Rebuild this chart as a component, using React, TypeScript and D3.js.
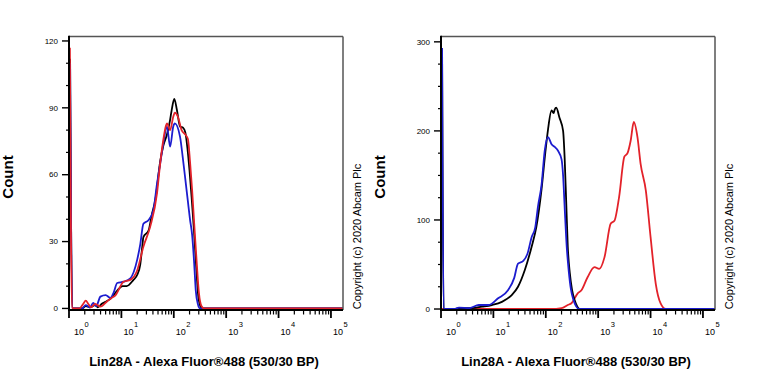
import React from 'react';
import * as d3 from 'd3';

// intensity / count pairs
const leftBlack: [number, number][] = [
  [1.05, 112], [1.15, 0], [1.78, 0], [2.09, 1], [2.51, 0.5], [3.16, 1.5], [3.55, 0.5], [4.17, 2],
  [5.01, 3], [6.31, 4.5], [8.32, 8], [10.5, 10], [12.6, 10], [17, 12.8], [20, 15], [22.9, 19.7],
  [25.1, 28], [26.3, 32], [33.1, 35], [38, 42], [44.7, 49], [55, 66], [63.1, 73], [74.1, 78],
  [85.1, 84.6], [91.2, 89], [102.3, 94], [114.8, 89], [131.8, 81.6], [151.4, 81], [166, 79],
  [182, 72], [199.5, 62], [218.8, 50], [242.7, 35], [269, 18], [295, 5], [331, 0.5], [363, 0], [169000, 0],
];
const leftBlue: [number, number][] = [
  [1.05, 110], [1.15, 0], [1.78, 0], [2.09, 1.5], [2.51, 0.5], [2.9, 2.5], [3.3, 1], [3.98, 5.3],
  [5.01, 6], [6.17, 4.7], [7.08, 7], [8.32, 11.4], [11, 12], [14.8, 13.5], [20, 21.8], [23, 29],
  [26.3, 38], [33.1, 39.7], [40.7, 44], [47.9, 56], [55, 65], [63.1, 74], [74.1, 81.6], [85.1, 72.6],
  [97.7, 81.6], [104.7, 83], [131.8, 77], [147.9, 68], [166, 58], [186, 48], [204, 40], [224, 33],
  [245.5, 20], [263, 8], [288, 2], [316, 0], [169000, 0],
];
const leftRed: [number, number][] = [
  [1.04, 117], [1.14, 0], [1.58, 0], [1.86, 2], [2.09, 3.5], [2.34, 2], [2.63, 0.5], [3.16, 2],
  [3.98, 0.8], [5.25, 3], [6.3, 4.5], [7.76, 6], [11, 12], [14.8, 12.8], [20, 17], [26.3, 27.7],
  [35.5, 36.7], [47.9, 51.7], [55, 65], [63.1, 75.6], [70.8, 82], [74.1, 83], [85.1, 80], [97.7, 86],
  [104.7, 87.8], [120, 86], [141, 80], [166, 78], [186, 76], [204, 66], [224, 53], [245.5, 38],
  [275, 20], [302, 7], [339, 1], [380, 0], [169000, 0],
];

const rightBlack: [number, number][] = [
  [1.05, 285], [1.12, 0], [1.8, 0], [2.19, 1], [3.89, 1], [6.03, 2.6], [9.33, 4.5], [14.5, 8],
  [22.4, 15.7], [29.5, 25], [39.8, 43.8], [53.7, 70], [66, 92], [83.2, 135], [97.7, 175], [110, 201],
  [129, 223], [141, 220], [148, 224], [158.5, 226], [182, 215], [214, 200], [229, 170], [245.5, 120],
  [263, 70], [288, 40], [316, 22], [355, 10], [398, 3], [447, 0], [169000, 0],
];
const rightBlue: [number, number][] = [
  [1.05, 293], [1.12, 0], [1.8, 0], [2.2, 1.5], [3.5, 1], [5.25, 4.5], [8.1, 4.5], [12.3, 12],
  [19, 21], [25, 35], [29.5, 51], [37.2, 54], [44.7, 62], [53.7, 80.6], [63.1, 92], [70.8, 114.8],
  [83.2, 140], [95.5, 178], [110, 193], [129, 185], [148, 182], [170, 178], [200, 168], [214, 150],
  [229, 115], [251, 70], [275, 42], [302, 22], [339, 10], [380, 3], [427, 0], [169000, 0],
];
const rightRed: [number, number][] = [
  [1, 0], [126, 0], [200, 1], [263, 4.5], [309, 6.5], [407, 17.6], [479, 21], [631, 36], [851, 47],
  [1047, 45], [1318, 58], [1738, 96], [2042, 99], [2512, 126], [3162, 171], [3631, 175], [4169, 189],
  [4786, 210], [5623, 193], [6457, 163], [8128, 133], [10000, 81], [12589, 28], [15488, 6.5],
  [19498, 0], [169000, 0],
];

const decades = [0, 1, 2, 3, 4, 5];
const leftMajor = [0, 30, 60, 90, 120];
const leftMinor = [10, 20, 40, 50, 70, 80, 100, 110];
const rightMajor = [0, 100, 200, 300];
const rightMinor = [25, 50, 75, 125, 150, 175, 225, 250, 275];

const xTitle = 'Lin28A - Alexa Fluor®488 (530/30 BP)';
const copyright = 'Copyright (c) 2020 Abcam Plc';

const BLACK = '#000000';
const BLUE = '#1c1ccf';
const RED = '#e3222a';
const FONT = '"Liberation Sans", Arial, sans-serif';

const top = 36.5;
const bottom = 310;
const plotW = 274;

type PanelProps = {
  left: number;
  yDomain: [number, number];
  major: number[];
  minor: number[];
  series: { data: [number, number][]; color: string }[];
};

const Panel = ({ left, yDomain, major, minor, series }: PanelProps) => {
  const x = d3.scaleLog().domain([1, Math.pow(10, 5.23)]).range([left, left + plotW]).clamp(true);
  const y = d3.scaleLinear().domain(yDomain).range([bottom, top]);
  const line = d3.line<[number, number]>()
    .x(d => x(d[0]))
    .y(d => y(d[1]))
    .curve(d3.curveMonotoneX);

  const minorX: number[] = [];
  decades.slice(0, 5).forEach(e => {
    for (let k = 2; k <= 9; k++) minorX.push(k * Math.pow(10, e));
  });

  return (
    <g>
      <defs>
        <clipPath id={`clip${left}`}>
          <rect x={left} y={top - 2} width={plotW} height={bottom - top + 2} />
        </clipPath>
      </defs>
      <g clipPath={`url(#clip${left})`}>
        {series.map((s, i) => (
          <path key={i} d={line(s.data) || ''} fill="none" stroke={s.color} strokeWidth={1.8}
            strokeLinejoin="round" />
        ))}
      </g>
      {/* frame */}
      <line x1={left} x2={left + plotW} y1={top} y2={top} stroke="#555" strokeWidth={1.5} />
      <line x1={left + plotW} x2={left + plotW} y1={top} y2={bottom} stroke="#555" strokeWidth={1.5} />
      <line x1={left} x2={left} y1={top - 0.7} y2={bottom + 1} stroke="#000" strokeWidth={2} />
      <line x1={left - 1} x2={left + plotW} y1={bottom} y2={bottom} stroke="#000" strokeWidth={2} />
      {/* y ticks */}
      {minor.map(v => (
        <line key={'ym' + v} x1={left - 3} x2={left} y1={y(v)} y2={y(v)} stroke="#000" strokeWidth={1.2} />
      ))}
      {major.map(v => (
        <g key={'yM' + v}>
          <line x1={left - 7} x2={left} y1={y(v)} y2={y(v)} stroke="#000" strokeWidth={1.4} />
          <text x={left - 11} y={y(v)} dy="0.35em" textAnchor="end" fontSize={8} fontFamily={FONT}>{v}</text>
        </g>
      ))}
      {/* x ticks */}
      {minorX.map(v => (
        <line key={'xm' + v} x1={x(v)} x2={x(v)} y1={bottom} y2={bottom + 4.5} stroke="#000" strokeWidth={1.2} />
      ))}
      {decades.map(e => {
        const px = x(Math.pow(10, e));
        const dx = e === 0 ? 5 : 2;
        return (
          <g key={'xM' + e}>
            <line x1={px} x2={px} y1={bottom} y2={bottom + 8} stroke="#000" strokeWidth={1.8} />
            <text x={px + dx} y={334.5} fontSize={9} fontFamily={FONT}>10</text>
            <text x={px + dx + 10.5} y={326.5} fontSize={7.5} fontFamily={FONT}>{e}</text>
          </g>
        );
      })}
      <text x={left + plotW / 2 - 2} y={366} textAnchor="middle" fontSize={13} fontWeight="bold"
        fontFamily={FONT}>{xTitle}</text>
      <text transform={`translate(${left - 56},177) rotate(-90)`} textAnchor="middle" fontSize={15}
        fontWeight="bold" fontFamily={FONT}>Count</text>
      <text transform={`translate(${left + plotW + 14},236.5) rotate(-90)`} textAnchor="middle"
        dominantBaseline="central" fontSize={11} fontFamily={FONT}>{copyright}</text>
    </g>
  );
};

export default function App() {
  return (
    <svg width={768} height={384} style={{ position: 'absolute', left: 0, top: 0, background: '#fff' }}>
      <rect width={768} height={384} fill="#fff" />
      <Panel left={69} yDomain={[-0.7, 122]} major={leftMajor} minor={leftMinor}
        series={[{ data: leftBlack, color: BLACK }, { data: leftBlue, color: BLUE }, { data: leftRed, color: RED }]} />
      <Panel left={441} yDomain={[-1.1, 306]} major={rightMajor} minor={rightMinor}
        series={[{ data: rightRed, color: RED }, { data: rightBlack, color: BLACK }, { data: rightBlue, color: BLUE }]} />
    </svg>
  );
}
